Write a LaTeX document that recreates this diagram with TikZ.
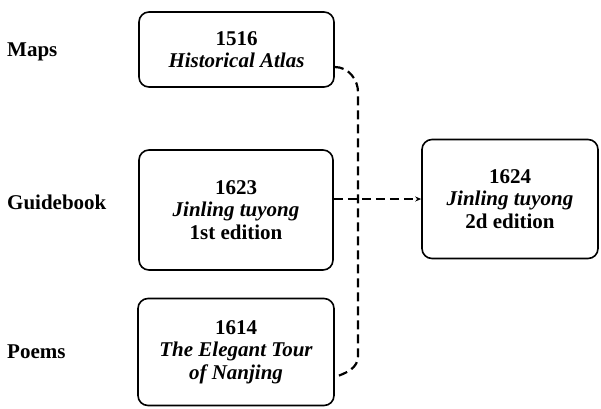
\documentclass[tikz,border=0pt]{standalone}
\usepackage{fontspec}
\setmainfont{Liberation Serif}
\usetikzlibrary{arrows.meta}
\begin{document}
\begin{tikzpicture}[x=1pt,y=-1pt,
  book/.style={draw, line width=1.6pt, rounded corners=10pt, align=center,
    font=\fontsize{21}{22.5}\selectfont\bfseries, inner sep=0pt},
  cat/.style={anchor=west, inner sep=0pt, font=\fontsize{21}{22}\selectfont\bfseries},
  conn/.style={line width=2.2pt, dash pattern=on 9pt off 5pt}]
\useasboundingbox (0,0) rectangle (601,408);
\node[book, minimum width=195pt, minimum height=75pt] (b1) at (236.5,49.5) {1516\\\itshape Historical Atlas};
\node[book, minimum width=194pt, minimum height=120pt] (b2) at (236,210) {1623\\\itshape Jinling tuyong\\1st edition};
\node[book, minimum width=196pt, minimum height=107pt] (b3) at (236,352) {1614\\\itshape The Elegant Tour\\\itshape of Nanjing};
\node[book, minimum width=176pt, minimum height=119pt] (b4) at (510,199) {1624\\\itshape Jinling tuyong\\2d edition};
\node[cat] (l1) at (7,52) {Maps};
\node[cat] (l2) at (7,202) {Guidebook};
\node[cat] (l3) at (7,352) {Poems};
\coordinate (v1) at (358,92);
\coordinate (v2) at (358,356);
\draw[conn] ([yshift=-17.5pt]b1.east) .. controls +(14,0) and +(0,-12) .. (v1) -- (v2)
  .. controls +(0,12) and +(12,-4) .. ([yshift=-25pt]b3.east);
\draw[conn, -{Stealth[length=6pt,width=5pt]}] (b2.east |- b4.west) -- (b4.west);
\end{tikzpicture}
\end{document}
